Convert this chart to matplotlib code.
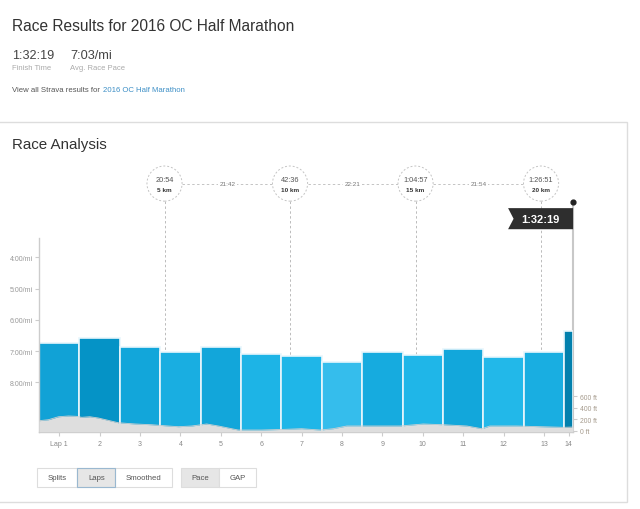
import matplotlib
matplotlib.use("Agg")
import matplotlib.pyplot as plt
from matplotlib.patches import Rectangle, Polygon
from matplotlib.transforms import blended_transform_factory
from matplotlib.ticker import FixedLocator, FuncFormatter

plt.rcParams['font.family'] = ['Liberation Sans', 'DejaVu Sans']

race_name = "2016 OC Half Marathon"
finish_time = "1:32:19"
avg_pace = "7:03/mi"

# laps (1 mile each, last one short)
lap_labels = ["Lap 1", "2", "3", "4", "5", "6", "7", "8", "9", "10", "11", "12", "13", "14"]
lap_miles = [1.0, 1.0, 1.0, 1.0, 1.0, 1.0, 1.0, 1.0, 1.0, 1.0, 1.0, 1.0, 1.0, 0.22]
lap_paces = ["6:45", "6:34", "6:53", "7:01", "6:53", "7:05", "7:10", "7:20",
             "7:01", "7:08", "6:56", "7:11", "7:02", "6:21"]
bar_colors = ['#11a2d6', '#0593c6', '#12a6da', '#19aee1', '#12a6da', '#1db4e6', '#1fb6e8',
              '#35bdec', '#16abdf', '#1fb6e8', '#12a7db', '#22b8e9', '#19aee1', '#0280ad']

# split markers
split_km = [5, 10, 15, 20]
split_times = ["20:54", "42:36", "1:04:57", "1:26:51"]
split_between = ["21:42", "22:21", "21:54"]

# elevation profile
elev_miles = [0.0, 0.23, 0.48, 0.73, 0.93, 1.06, 1.26, 1.47, 1.68, 1.96, 2.38, 2.79, 3.2, 3.45,
              3.78, 4.15, 4.44, 4.77, 4.93, 5.51, 6.09, 6.5, 6.96, 7.28, 7.62, 8.11, 8.94,
              9.51, 10.01, 10.59, 10.96, 11.16, 11.82, 12.4, 12.98, 13.22]
elev_ft = [174, 191, 243, 256, 250, 233, 243, 221, 186, 139, 117, 104, 82, 70,
           82, 117, 82, 35, 12, 12, 24, 35, 12, 35, 82, 82, 82,
           117, 104, 82, 35, 82, 82, 70, 59, 64]

pace_ticks = [4, 5, 6, 7, 8]
elev_ticks = [0, 200, 400, 600]


def to_min(s):
    m, sec = s.split(':')
    return int(m) + int(sec) / 60


paces = [to_min(p) for p in lap_paces]
lefts = [sum(lap_miles[:i]) for i in range(len(lap_miles))]
centers = [l + w / 2 for l, w in zip(lefts, lap_miles)]
total = sum(lap_miles)
pace_lo, pace_hi = 9.58, 3.39

fig = plt.figure(figsize=(6.4, 5.1), dpi=100)

# page furniture in pixel coords
page = fig.add_axes([0, 0, 1, 1], zorder=-1)
page.set_xlim(0, 640)
page.set_ylim(510, 0)
page.axis('off')
page.add_patch(Rectangle((-2, 123), 628.7, 380, fc='none', ec='#dddddd', lw=1))
page.text(12, 31, "Race Results for " + race_name, fontsize=11.2, color='#333333', va='baseline')
page.text(12.5, 59.3, finish_time, fontsize=9.1, color='#444444', va='baseline')
page.text(12.5, 70, "Finish Time", fontsize=5.5, color='#aaaaaa', va='baseline')
page.text(70.5, 59.3, avg_pace, fontsize=9.2, color='#444444', va='baseline')
page.text(70.5, 70, "Avg. Race Pace", fontsize=5.5, color='#aaaaaa', va='baseline')
page.text(12.5, 92.5, "View all Strava results for ", fontsize=5.6, color='#555555', va='baseline')
page.text(102.7, 92.5, race_name, fontsize=5.6, color='#3d8fc6', va='baseline')
page.text(12.5, 149, "Race Analysis", fontsize=10.9, color='#333333', va='baseline')

buttons = [("Splits", 37.3, 77.3, False), ("Laps", 77.3, 115.3, True),
           ("Smoothed", 115.3, 171.7, False),
           ("Pace", 181, 219.3, True), ("GAP", 219.3, 256, False)]
for name, x0, x1, shaded in buttons:
    page.add_patch(Rectangle((x0, 469), x1 - x0, 19.3, fc='#e6e6e6' if shaded else 'white',
                             ec='#dddddd', lw=0.8))
    page.text((x0 + x1) / 2, 478.9, name, fontsize=5.6, color='#555555', ha='center', va='center')
page.add_patch(Rectangle((77.3, 469), 38, 19.3, fc='none', ec='#9ab8d0', lw=0.8))

# main chart
ax = fig.add_axes([39 / 640, (510 - 432.7) / 510, (total * 40.4) / 640, 193.4 / 510])
ax.set_facecolor('none')
ax.bar(lefts, [pace_lo - p for p in paces], bottom=paces, width=lap_miles, align='edge',
       color=bar_colors, edgecolor='#e8f6fc', linewidth=1.2, zorder=1)

trans = blended_transform_factory(ax.transData, ax.transAxes)
mile_km = 1.609344
split_mi = [k / mile_km for k in split_km]
cy = 1.283
r_mi = 17.5 / 40.4
for x in split_mi:
    ax.plot([x, x], [0, cy - 0.09], transform=trans, clip_on=False, color='#bbbbbb',
            lw=0.7, ls=(0, (2.5, 2.5)), zorder=0.5)
ax.scatter(split_mi, [cy] * len(split_mi), s=640, facecolor='white', edgecolor='#c4c4c4',
           linewidths=0.7, linestyle=(0, (2, 2)), transform=trans, clip_on=False, zorder=4)
for x, t, k in zip(split_mi, split_times, split_km):
    ax.text(x, cy + 0.022, t, transform=trans, ha='center', va='center', fontsize=5.3,
            color='#555555', zorder=5, clip_on=False)
    ax.text(x, cy - 0.03, f"{k} km", transform=trans, ha='center', va='center', fontsize=4.6,
            color='#333333', fontweight='bold', zorder=5, clip_on=False)
for i, t in enumerate(split_between):
    x0, x1 = split_mi[i] + r_mi, split_mi[i + 1] - r_mi
    ax.plot([x0, x1], [cy, cy], transform=trans, clip_on=False, color='#c4c4c4',
            lw=0.7, ls=(0, (2.5, 2.5)), zorder=3)
    ax.text((x0 + x1) / 2, cy, t, transform=trans, ha='center', va='center', fontsize=4.6,
            color='#777777', zorder=4, clip_on=False,
            bbox=dict(fc='white', ec='none', pad=1.2))

# finish flag
ax.plot([total, total], [0, 1.189], transform=trans, clip_on=False, color='#c8c8c8',
        lw=1.5, zorder=0.5)
ax.scatter([total], [1.189], s=12, color='#222222', transform=trans, clip_on=False, zorder=6)
xl = total - 65 / 40.4
ax.add_patch(Polygon([(total, 1.156), (xl, 1.156), (xl + 5.5 / 40.4, 1.101), (xl, 1.047),
                      (total, 1.047)], closed=True, transform=trans, clip_on=False,
                     fc='#2e2e2e', ec='none', zorder=5))
ax.text(total - 33 / 40.4, 1.101, finish_time, transform=trans, ha='center', va='center',
        fontsize=8, color='white', fontweight='bold', zorder=6, clip_on=False)

ax.set_xlim(0, total)
ax.set_ylim(pace_lo, pace_hi)
ax.yaxis.set_major_locator(FixedLocator(pace_ticks))
ax.yaxis.set_major_formatter(FuncFormatter(lambda v, p: f"{int(v)}:00/mi"))
ax.set_xticks(centers)
ax.set_xticklabels(lap_labels)
ax.tick_params(axis='y', length=3, color='#cccccc', labelcolor='#999999', labelsize=5, pad=1.5)
ax.tick_params(axis='x', length=3, color='#cccccc', labelcolor='#888888', labelsize=5, pad=3)
for s in ['top', 'right']:
    ax.spines[s].set_visible(False)
for s in ['left', 'bottom']:
    ax.spines[s].set_color('#cccccc')
    ax.spines[s].set_linewidth(1)

# elevation on twin axis
ax2 = ax.twinx()
ax2.fill_between(elev_miles, elev_ft, -17, color='#dedede', lw=0, zorder=1)
ax2.plot(elev_miles, elev_ft, color='#d0d0d0', lw=0.6, zorder=2)
ax2.set_ylim(-17, 3346)
ax2.set_xlim(0, total)
ax2.yaxis.set_major_locator(FixedLocator(elev_ticks))
ax2.yaxis.set_major_formatter(FuncFormatter(lambda v, p: f"{int(v)} ft"))
ax2.tick_params(axis='y', length=3, color='#cccccc', labelcolor='#a59a8c', labelsize=4.9, pad=2)
for s in ax2.spines.values():
    s.set_visible(False)

fig.savefig("out.png", dpi=100)
